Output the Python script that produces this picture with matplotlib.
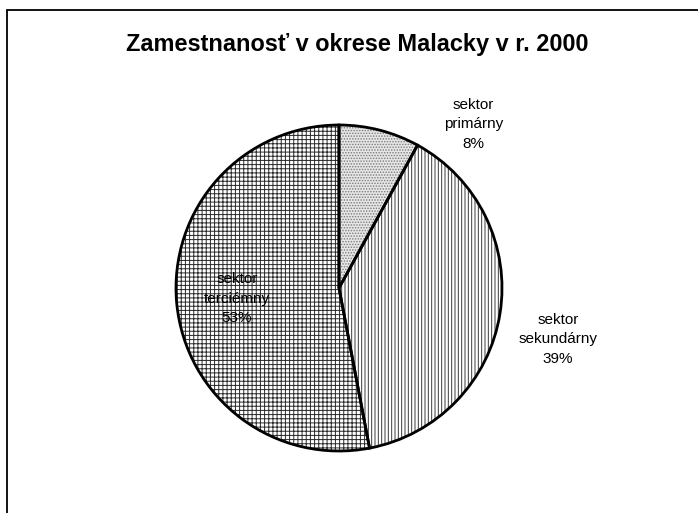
import matplotlib
matplotlib.use("Agg")
import matplotlib.pyplot as plt
from matplotlib.patches import Rectangle
import numpy as np

plt.rcParams["font.family"] = ["Liberation Sans", "DejaVu Sans"]
plt.rcParams["hatch.linewidth"] = 0.7

TITLE = "Zamestnanosť v okrese Malacky v r. 2000"
SECTORS = ["sektor\nprimárny", "sektor\nsekundárny", "sektor\nterciémny"]
SHARES = [8, 39, 53]

# styling for each wedge
HATCHES = ["......", "|||||", "++++"]
HATCH_COLORS = ["#7a7a7a", "#3a3a3a", "#2a2a2a"]
FACES = ["#e6e6e6", "white", "white"]
# label placement: (distance from centre, angle offset in degrees from wedge middle)
LABEL_POS = [(1.30, -25.0), (1.38, -4.2), (0.63, 0.6)]

W, H = 698, 513
fig = plt.figure(figsize=(W / 100, H / 100), dpi=100)

cx, cy, r = 339, 288, 163
ax = fig.add_axes([(cx - r) / W, (H - cy - r) / H, 2 * r / W, 2 * r / H])

wedges, _ = ax.pie(SHARES, startangle=90, counterclock=False, radius=1,
                   wedgeprops=dict(linewidth=0))
for w, h, hc, fc in zip(wedges, HATCHES, HATCH_COLORS, FACES):
    w.set_facecolor(fc)
    w.set_edgecolor(hc)
    w.set_hatch(h)

outline, _ = ax.pie(SHARES, startangle=90, counterclock=False, radius=1,
                    wedgeprops=dict(fill=False, edgecolor="black", linewidth=2.0))

for w, name, val, (dist, off) in zip(wedges, SECTORS, SHARES, LABEL_POS):
    mid = np.deg2rad((w.theta1 + w.theta2) / 2 + off)
    ax.text(dist * np.cos(mid), dist * np.sin(mid), f"{name}\n{val}%",
            ha="center", va="center", multialignment="center",
            fontsize=11, linespacing=1.5, clip_on=False)

ax.set_xlim(-1, 1)
ax.set_ylim(-1, 1)
ax.set_aspect("equal")
ax.axis("off")

fig.text(357 / W, 1 - 44 / H, TITLE, ha="center", va="center",
         fontsize=16.9, fontweight="bold")

# chart area frame (runs off right and bottom edges)
fig.patches.append(Rectangle((7.5 / W, -0.1), 1.2, 1.1 - 10.5 / H,
                             transform=fig.transFigure, fill=False,
                             edgecolor="black", linewidth=1.3))

fig.savefig("out.png", dpi=100)
